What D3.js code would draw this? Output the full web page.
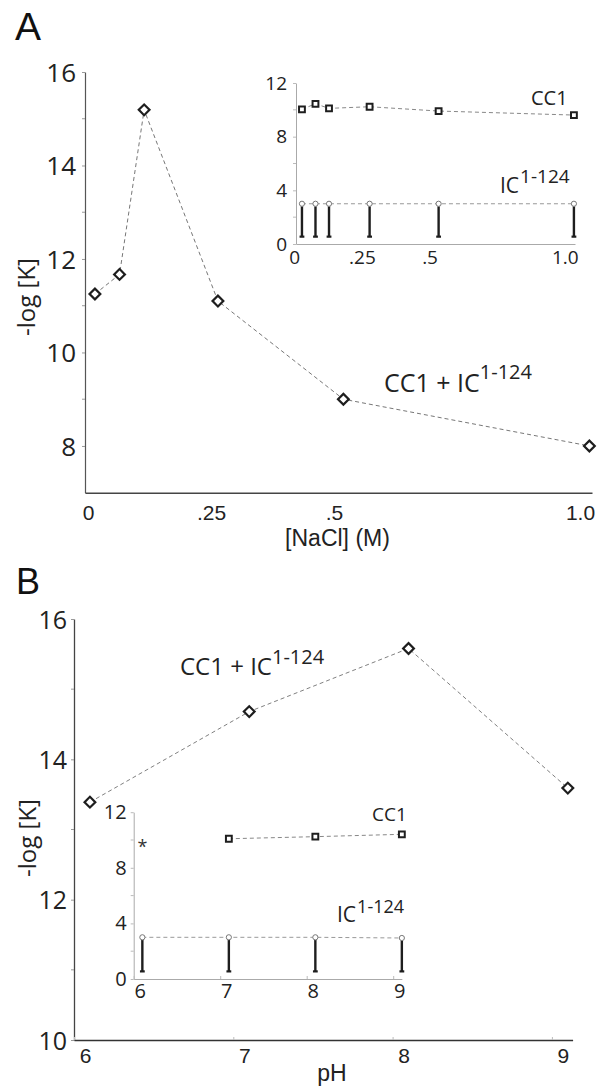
<!DOCTYPE html>
<html><head><meta charset="utf-8">
<script src="https://cdn.jsdelivr.net/npm/d3@7"></script>
<style>
body{margin:0;background:#fff}
svg{display:block}
</style></head><body>
<svg id="c" width="599" height="1088"></svg>
<script>
// ---------- Panel A : salt dependence ----------
const naclConc      = [0.01, 0.06, 0.11, 0.26, 0.515, 1.015];
const naclComplex   = [11.25, 11.67, 15.19, 11.1, 9.0, 8.0];
const naclCC1       = [10.04, 10.45, 10.11, 10.23, 9.91, 9.61];
const naclIC        = [3.0, 3.0, 3.0, 3.0, 3.0, 3.0];
const naclTicks     = [0, 0.25, 0.5, 1.0];
const naclTickText  = ["0", ".25", ".5", "1.0"];
// ---------- Panel B : pH dependence ----------
const pHValues      = [6.1, 7.1, 8.1, 9.1];
const pHComplex     = [13.39, 14.68, 15.58, 13.59];
const pHCC1         = [null, 10.09, 10.24, 10.41];
const pHIC          = [3.0, 3.0, 3.0, 2.95];
const pHTicks       = [6, 7, 8, 9];
// ---------- shared ----------
const mainYMajor    = [8, 10, 12, 14, 16];
const mainYMinorA   = [9, 11, 13, 15];
const mainYMajorB   = [10, 12, 14, 16];
const mainYMinorB   = [11, 13, 15];
const insetYMajor   = [0, 4, 8, 12];
const insetYMinor   = [2, 6, 10];
const icFloor       = 0.54;
const starMark      = {x: 6.1, y: 9.8};

const MYR = '"Open Sans","Noto Sans",sans-serif';
const ARI = '"Liberation Sans",Arial,sans-serif';
const fmtInt = d3.format("d");
const svg = d3.select("#c");

function styleAxis(g, o) {
  g.select(".domain").attr("stroke", o.domain).attr("stroke-width", o.dw || 1);
  g.selectAll(".tick line").attr("stroke", o.tick || "#999").attr("stroke-width", 1);
  g.selectAll(".tick text").attr("fill", "#222").style("font-family", o.font).style("font-size", o.size + "px");
  if (o.dx) g.selectAll(".tick text").attr("dx", o.dx);
}
function minorTicks(g, scale, vals, x, len, color) {
  g.selectAll(null).data(vals).enter().append("line")
    .attr("y1", d => scale(d)).attr("y2", d => scale(d))
    .attr("x1", x).attr("x2", x + len)
    .attr("stroke", color).attr("stroke-width", 1);
}
function dashed(g, xs, ys, xS, yS, color) {
  const pts = xs.map((x, i) => [x, ys[i]]).filter(p => p[1] != null);
  g.append("path").datum(pts)
    .attr("d", d3.line().x(d => xS(d[0])).y(d => yS(d[1])))
    .attr("fill", "none").attr("stroke", color || "#808080").attr("stroke-width", 1).attr("stroke-dasharray", "4,3");
}
function diamonds(g, xs, ys, xS, yS) {
  g.selectAll(null).data(xs.map((x, i) => [x, ys[i]])).enter().append("path")
    .attr("d", d3.symbol().type(d3.symbolSquare).size(58)())
    .attr("transform", d => `translate(${xS(d[0])},${yS(d[1])}) rotate(45)`)
    .attr("fill", "#fff").attr("stroke", "#1e1e1e").attr("stroke-width", 2.2);
}
function squares(g, xs, ys, xS, yS) {
  g.selectAll(null).data(xs.map((x, i) => [x, ys[i]]).filter(d => d[1] != null)).enter().append("path")
    .attr("d", d3.symbol().type(d3.symbolSquare).size(34)())
    .attr("transform", d => `translate(${xS(d[0])},${yS(d[1])})`)
    .attr("fill", "#fff").attr("stroke", "#1e1e1e").attr("stroke-width", 2);
}
function stems(g, xs, ys, xS, yS) {
  const d = xs.map((x, i) => [x, ys[i]]);
  g.selectAll(null).data(d).enter().append("line")
    .attr("x1", p => xS(p[0])).attr("x2", p => xS(p[0]))
    .attr("y1", p => yS(p[1]) + 2.5).attr("y2", p => yS(icFloor))
    .attr("stroke", "#1e1e1e").attr("stroke-width", 2.4);
  g.selectAll(null).data(d).enter().append("rect")
    .attr("x", p => xS(p[0]) - 2.4).attr("y", yS(icFloor) - 1.2).attr("width", 4.8).attr("height", 2.2)
    .attr("fill", "#1e1e1e");
  g.selectAll(null).data(d).enter().append("circle")
    .attr("cx", p => xS(p[0])).attr("cy", p => yS(p[1])).attr("r", 2.6)
    .attr("fill", "#fff").attr("stroke", "#777").attr("stroke-width", 1);
}
function supLabel(g, x, y, main, sup, mSize, sSize, raise, dx) {
  const t = g.append("text").attr("x", x).attr("y", y).attr("fill", "#222").style("font-family", MYR);
  t.append("tspan").style("font-size", mSize + "px").text(main);
  t.append("tspan").style("font-size", sSize + "px").attr("dx", dx).attr("dy", -raise).text(sup);
}

// ================= PANEL A =================
const xA = d3.scaleLinear().domain([-0.0102, 1.0203]).range([85, 592]);
const yA = d3.scaleLinear().domain([7, 16]).range([492.7, 72]);
const gA = svg.append("g");
gA.append("g").attr("transform", "translate(85,0)")
  .call(d3.axisLeft(yA).tickValues(mainYMajor).tickFormat(fmtInt).tickSize(3).tickSizeOuter(0).tickPadding(6))
  .call(g => styleAxis(g, {domain: "#555", dw: 1.2, font: MYR, size: 26}))
  .call(g => g.selectAll(".tick text").attr("dy", "0.36em"));
minorTicks(gA, yA, mainYMinorA, 82, 3, "#999");
gA.append("g").attr("transform", "translate(0,492.7)")
  .call(d3.axisBottom(xA).tickValues(naclTicks).tickFormat((d, i) => naclTickText[i]).tickSize(0).tickSizeOuter(0).tickPadding(12))
  .call(g => styleAxis(g, {domain: "#444", dw: 1.5, font: ARI, size: 21, dx: -2}));
dashed(gA, naclConc, naclComplex, xA, yA, "#777");
diamonds(gA, naclConc, naclComplex, xA, yA);
supLabel(gA, 384, 392, "CC1 + IC", "1-124", 25, 20, 13, 0);
gA.append("text").attr("x", 337.5).attr("y", 546).attr("text-anchor", "middle")
  .style("font-family", ARI).style("font-size", "23px").attr("fill", "#222").text("[NaCl] (M)");
gA.append("text").attr("transform", "translate(35,297) rotate(-90)").attr("text-anchor", "middle")
  .style("font-family", MYR).style("font-size", "24px").attr("fill", "#222").text("-log [K]");
gA.append("text").attr("x", 15).attr("y", 40).style("font-family", ARI).style("font-size", "39px").attr("fill", "#111").text("A");

// inset A
const xAi = d3.scaleLinear().domain([-0.012, 1.019]).range([296, 575]);
const yAi = d3.scaleLinear().domain([0, 12]).range([244, 83]);
const gAi = svg.append("g");
gAi.append("g").attr("transform", "translate(296,0)")
  .call(d3.axisLeft(yAi).tickValues(insetYMajor).tickFormat(fmtInt).tickSize(3).tickSizeOuter(0).tickPadding(6))
  .call(g => styleAxis(g, {domain: "#aaa", tick: "#bbb", font: MYR, size: 19}));
minorTicks(gAi, yAi, insetYMinor, 293, 3, "#bbb");
gAi.append("g").attr("transform", "translate(0,244)")
  .call(d3.axisBottom(xAi).tickValues(naclTicks).tickFormat((d, i) => naclTickText[i]).tickSize(0).tickSizeOuter(0).tickPadding(7))
  .call(g => styleAxis(g, {domain: "#aaa", font: MYR, size: 19, dx: -5}));
dashed(gAi, naclConc, naclCC1, xAi, yAi, "#888");
dashed(gAi, naclConc, naclIC, xAi, yAi, "#999");
stems(gAi, naclConc, naclIC, xAi, yAi);
squares(gAi, naclConc, naclCC1, xAi, yAi);
gAi.append("text").attr("x", 531).attr("y", 105).style("font-family", MYR).style("font-size", "20px").attr("fill", "#222").text("CC1");
supLabel(gAi, 500, 193, "IC", "1-124", 21, 19, 10, 1);

// ================= PANEL B =================
const xB = d3.scaleLinear().domain([6, 9.13]).range([74, 572.6]);
const yB = d3.scaleLinear().domain([10, 16]).range([1040, 619]);
const gB = svg.append("g");
gB.append("g").attr("transform", "translate(74,0)")
  .call(d3.axisLeft(yB).tickValues(mainYMajorB).tickFormat(fmtInt).tickSize(3).tickSizeOuter(0).tickPadding(4))
  .call(g => styleAxis(g, {domain: "#444", dw: 1.3, font: MYR, size: 25}))
  .call(g => g.selectAll(".tick text").attr("dy", "0.36em"));
minorTicks(gB, yB, mainYMinorB, 71, 3, "#999");
gB.append("g").attr("transform", "translate(0,1040)")
  .call(d3.axisBottom(xB).tickValues(pHTicks).tickFormat(fmtInt).tickSize(-3).tickSizeOuter(0).tickPadding(8))
  .call(g => styleAxis(g, {domain: "#333", dw: 1.5, tick: "#bbb", font: ARI, size: 21, dx: 11}));
dashed(gB, pHValues, pHComplex, xB, yB, "#808080");
diamonds(gB, pHValues, pHComplex, xB, yB);
supLabel(gB, 180, 675, "CC1 + IC", "1-124", 24, 20, 11, 0);
gB.append("text").attr("x", 332).attr("y", 1081).attr("text-anchor", "middle")
  .style("font-family", ARI).style("font-size", "23px").attr("fill", "#222").text("pH");
gB.append("text").attr("transform", "translate(36,838) rotate(-90)").attr("text-anchor", "middle")
  .style("font-family", MYR).style("font-size", "24px").attr("fill", "#222").text("-log [K]");
gB.append("text").attr("x", 16).attr("y", 594).style("font-family", ARI).style("font-size", "36px").attr("fill", "#111").text("B");

// inset B
const xBi = d3.scaleLinear().domain([6, 9.1]).range([133.7, 401.85]);
const yBi = d3.scaleLinear().domain([0, 12]).range([979, 812.2]);
const gBi = svg.append("g");
gBi.append("g").attr("transform", "translate(133.7,0)")
  .call(d3.axisLeft(yBi).tickValues(insetYMajor).tickFormat(fmtInt).tickSize(3).tickSizeOuter(0).tickPadding(4))
  .call(g => styleAxis(g, {domain: "#aaa", tick: "#bbb", font: MYR, size: 20}));
minorTicks(gBi, yBi, insetYMinor, 130.7, 3, "#bbb");
gBi.append("g").attr("transform", "translate(0,979)")
  .call(d3.axisBottom(xBi).tickValues(pHTicks).tickFormat(fmtInt).tickSize(-3).tickSizeOuter(0).tickPadding(5))
  .call(g => styleAxis(g, {domain: "#aaa", tick: "#bbb", font: MYR, size: 20, dx: 6}));
dashed(gBi, pHValues, pHCC1, xBi, yBi, "#888");
dashed(gBi, pHValues, pHIC, xBi, yBi, "#999");
stems(gBi, pHValues, pHIC, xBi, yBi);
squares(gBi, pHValues, pHCC1, xBi, yBi);
gBi.append("text").attr("x", xBi(starMark.x)).attr("y", yBi(starMark.y) + 10).attr("text-anchor", "middle")
  .style("font-family", MYR).style("font-size", "18px").attr("fill", "#333").text("*");
gBi.append("text").attr("x", 372).attr("y", 821).style("font-family", MYR).style("font-size", "19px").attr("fill", "#222").text("CC1");
supLabel(gBi, 337, 922, "IC", "1-124", 21, 18, 9, 1);
</script>
</body></html>
